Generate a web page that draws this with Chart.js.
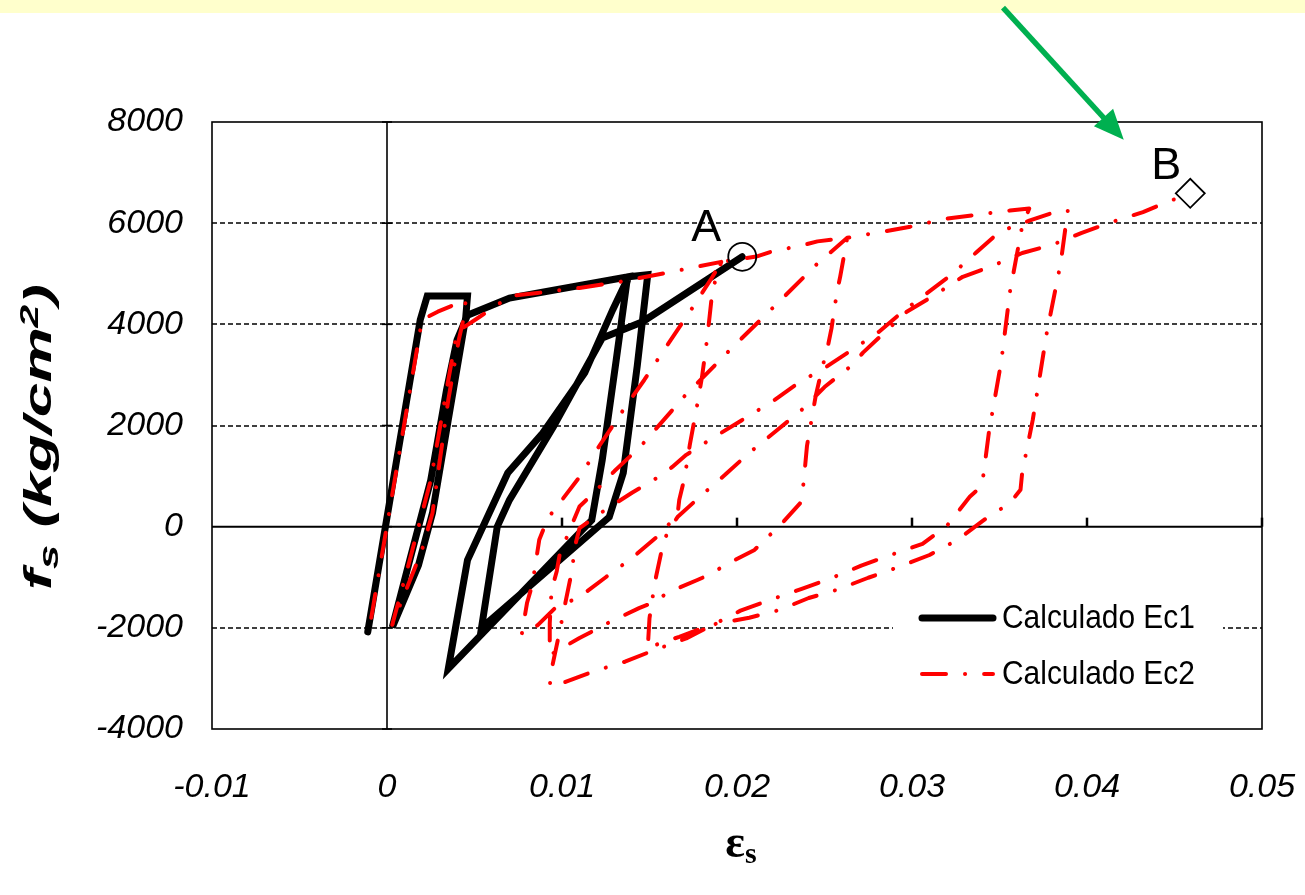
<!DOCTYPE html>
<html>
<head>
<meta charset="utf-8">
<script src="https://cdn.jsdelivr.net/npm/chart.js@4.4.1/dist/chart.umd.min.js"></script>
<style>
  html, body { margin: 0; padding: 0; background: #fff; }
  #wrap { width: 1305px; height: 895px; }
</style>
</head>
<body>
<div id="wrap"><canvas id="c" width="1305" height="895"></canvas></div>
<script>
// ---- dati ----
const xTickValues = [-0.01, 0, 0.01, 0.02, 0.03, 0.04, 0.05];
const xTickLabels = ['-0.01', '0', '0.01', '0.02', '0.03', '0.04', '0.05'];
const yTickValues = [-4000, -2000, 0, 2000, 4000, 6000, 8000];
const yDashedGrid = [-2000, 2000, 4000, 6000];

// Calculado Ec1 (linea nera)
const ec1Strain = [-0.0011, 0.0019, 0.0023, 0.0046, 0.0045, 0.0035, 0.0026, 0.0018, 0.0003,
  0.0013, 0.0025, 0.0034, 0.0040, 0.0046, 0.0070, 0.0138,
  0.0137, 0.0131, 0.0123, 0.0117, 0.0035,
  0.0046, 0.0069, 0.0089, 0.0113, 0.0129, 0.0138, 0.0149,
  0.0143, 0.0135, 0.0127, 0.0054,
  0.0063, 0.0070, 0.0095, 0.0123, 0.0146, 0.0203];
const ec1Stress = [-2080, 4090, 4560, 4560, 4140, 2110, 270, -760, -1990,
  -660, 920, 2700, 3690, 4180, 4520, 4940,
  4820, 3300, 1320, 130, -2810,
  -660, 1060, 1850, 3040, 4290, 4940, 4980,
  3180, 1060, 190, -2000,
  0, 530, 1970, 3730, 4050, 5335];

// Calculado Ec2 (linea rossa tratto-punto)
const ec2Strain = [-0.0009, 0.0020, 0.0029, 0.0045, 0.0044, 0.0041, 0.0035, 0.0026, 0.0020, 0.0003,
  0.0013, 0.0025, 0.0034, 0.0040, 0.0053, 0.0063, 0.0070, 0.0086, 0.0110, 0.0133, 0.0160, 0.0191,
  0.0186, 0.0183, 0.0180, 0.0177, 0.0173, 0.0170, 0.0167, 0.0166, 0.0154, 0.0140, 0.0125, 0.0110, 0.0096, 0.0086, 0.0077,
  0.0080, 0.0083, 0.0087, 0.0092, 0.0110, 0.0121, 0.0137, 0.0147, 0.0159, 0.0175, 0.0186, 0.0191,
  0.0211, 0.0220, 0.0237, 0.0246, 0.0263,
  0.0259, 0.0257, 0.0254, 0.0252, 0.0249, 0.0245, 0.0240, 0.0238, 0.0236, 0.0224, 0.0217, 0.0210, 0.0193, 0.0186,
  0.0177, 0.0160, 0.0153, 0.0144, 0.0127, 0.0119, 0.0110, 0.0093,
  0.0093, 0.0094, 0.0097, 0.0099, 0.0103, 0.0106, 0.0110, 0.0118, 0.0130, 0.0145, 0.0170, 0.0197, 0.0225, 0.0245, 0.0263,
  0.0283, 0.0299, 0.0320, 0.0338, 0.0356, 0.0367,
  0.0363, 0.0356, 0.0351, 0.0344, 0.0340, 0.0333, 0.0320, 0.0306, 0.0287, 0.0271, 0.0253, 0.0237, 0.0218, 0.0202,
  0.0184, 0.0171, 0.0152, 0.0136, 0.0119, 0.0102, 0.0093,
  0.0094, 0.0098, 0.0102, 0.0106, 0.0107, 0.0110, 0.0123, 0.0131, 0.0140, 0.0155, 0.0163, 0.0171, 0.0186, 0.0203,
  0.0220, 0.0235, 0.0251, 0.0266, 0.0281, 0.0296, 0.0321, 0.0329, 0.0337, 0.0350, 0.0367, 0.0385, 0.0389,
  0.0385, 0.0377, 0.0369, 0.0363, 0.0362, 0.0356, 0.0341, 0.0326, 0.0310, 0.0291, 0.0275, 0.0257, 0.0241, 0.0224,
  0.0207, 0.0185, 0.0167, 0.0158, 0.0149,
  0.0150, 0.0153, 0.0157, 0.0160, 0.0166, 0.0180, 0.0193, 0.0207, 0.0223, 0.0237, 0.0250, 0.0266, 0.0272, 0.0297,
  0.0313, 0.0329, 0.0345, 0.0363, 0.0380, 0.0397, 0.0415, 0.0432, 0.0449, 0.0459];
const ec2Stress = [-1800, 4090, 4250, 4480, 4150, 3690, 2500, 270, -460, -1940,
  -660, 920, 2700, 3850, 4150, 4380, 4560, 4620, 4720, 4840, 5020, 5235,
  4680, 3730, 2960, 2360, 1610, 960, 530, 230, -210, -620, -1000, -1390, -1610, -1950, -2130,
  -1510, -1150, -260, 170, 980, 1580, 2410, 2900, 3530, 4350, 4940, 5235,
  5340, 5440, 5560, 5640, 5710,
  4950, 4610, 3920, 3580, 3180, 2590, 1600, 850, 460, 0, -220, -460, -760, -920,
  -1060, -1310, -1490, -1610, -1890, -2040, -2200, -2540,
  -1910, -1260, -880, -490, -190, 70, 400, 660, 1100, 1590, 2580, 3530, 4480, 5170, 5710,
  5830, 5930, 6090, 6170, 6250, 6290,
  5950, 4650, 3260, 1880, 810, 590, 20, -340, -570, -770, -1030, -1230, -1460, -1660,
  -1980, -2210, -2450, -2670, -2850, -3070, -3150,
  -2830, -2180, -1490, -820, -440, -30, 290, 470, 670, 980, 1180, 1420, 1750, 2110,
  2470, 2840, 3160, 3500, 3850, 4290, 4940, 5180, 5430, 5830, 6050, 6260, 6245,
  5220, 3830, 2110, 1080, 730, 470, 130, -260, -560, -815, -1010, -1250, -1410, -1650,
  -1800, -1940, -2180, -2280, -2400,
  -1810, -1110, -460, -130, 190, 630, 1020, 1460, 1910, 2310, 2760, 3200, 3440, 4250,
  4580, 4940, 5140, 5410, 5570, 5810, 6030, 6220, 6460, 6590];

const toPoints = (xs, ys) => xs.map((v, i) => ({ x: v, y: ys[i] }));
const ec1 = toPoints(ec1Strain, ec1Stress);
const ec2 = toPoints(ec2Strain, ec2Stress);
const pointA = ec1[ec1.length - 1];
const pointB = ec2[ec2.length - 1];

const FONT = "'Liberation Sans', Arial, sans-serif";

function line(ctx, x1, y1, x2, y2) {
  ctx.beginPath();
  ctx.moveTo(x1, y1);
  ctx.lineTo(x2, y2);
  ctx.stroke();
}

// testo con pedici/apici, centrato in (0,0); sx allunga lungo il testo
function richText(ctx, runs, targetLen) {
  let total = 0;
  runs.forEach(r => { ctx.font = r.font; r.w = ctx.measureText(r.text).width; total += r.w; });
  const sx = targetLen ? targetLen / total : 1;
  ctx.scale(sx, 1);
  let x = -total / 2;
  runs.forEach(r => {
    ctx.font = r.font;
    ctx.fillText(r.text, x, r.dy || 0);
    x += r.w;
  });
}

const decor = {
  id: 'decor',
  beforeDraw(chart) {
    const ctx = chart.ctx;
    ctx.save();
    ctx.fillStyle = '#ffffff';
    ctx.fillRect(0, 0, chart.width, chart.height);
    ctx.fillStyle = '#ffffcc';
    ctx.fillRect(0, 0, chart.width, 13);
    ctx.restore();
  },
  beforeDatasetsDraw(chart) {
    const { ctx, chartArea: a, scales: { x, y } } = chart;
    ctx.save();
    ctx.strokeStyle = '#000';
    // griglia tratteggiata
    ctx.lineWidth = 1.6;
    ctx.setLineDash([5, 3]);
    yDashedGrid.forEach(v => {
      const py = Math.round(y.getPixelForValue(v));
      line(ctx, a.left, py, a.right, py);
    });
    ctx.setLineDash([]);
    // bordo dell'area
    ctx.lineWidth = 1.6;
    ctx.strokeRect(a.left, a.top, a.right - a.left, a.bottom - a.top);
    // assi per lo zero
    const x0 = x.getPixelForValue(0);
    const y0 = y.getPixelForValue(0);
    ctx.lineWidth = 2;
    line(ctx, a.left, y0, a.right, y0);
    ctx.lineWidth = 1.6;
    line(ctx, x0, a.top, x0, a.bottom);
    ctx.lineWidth = 2.5;
    xTickValues.forEach(v => {
      if (v <= 0) return;
      const px = x.getPixelForValue(v);
      line(ctx, px, y0, px, y0 - 9);
    });
    ctx.lineWidth = 1.6;
    yTickValues.forEach(v => {
      const py = y.getPixelForValue(v);
      line(ctx, x0 - 5, py, x0 + 5, py);
    });
    ctx.restore();
  },
  afterDraw(chart) {
    const { ctx, scales: { x, y } } = chart;
    ctx.save();
    ctx.fillStyle = '#000';
    ctx.textBaseline = 'middle';

    // titolo asse y
    ctx.save();
    ctx.translate(41, 437);
    ctx.rotate(-Math.PI / 2);
    richText(ctx, [
      { text: 'f', font: `italic bold 38px ${FONT}` },
      { text: 's', font: `italic bold 27px ${FONT}`, dy: 10 },
      { text: ' (kg/cm', font: `italic bold 38px ${FONT}` },
      { text: '2', font: `italic bold 25px ${FONT}`, dy: -10 },
      { text: ')', font: `italic bold 38px ${FONT}` }
    ], 306);
    ctx.restore();

    // titolo asse x
    ctx.save();
    ctx.translate(741, 845);
    richText(ctx, [
      { text: '\u03b5', font: "bold 46px 'Liberation Serif', 'DejaVu Serif', serif" },
      { text: 's', font: "bold 30px 'Liberation Serif', 'DejaVu Serif', serif", dy: 10 }
    ]);
    ctx.restore();

    // etichette A e B
    const ax = x.getPixelForValue(pointA.x), ay = y.getPixelForValue(pointA.y);
    const bx = x.getPixelForValue(pointB.x), by = y.getPixelForValue(pointB.y);
    ctx.font = `45px ${FONT}`;
    ctx.textAlign = 'center';
    ctx.fillText('A', ax - 36, ay - 28);
    ctx.fillText('B', bx - 24, by - 27);
    ctx.textAlign = 'left';

    // freccia verde
    const tx = x.getPixelForValue(0.0421), ty = y.getPixelForValue(7650);
    const sx = x.getPixelForValue(0.0352), sy = y.getPixelForValue(10260);
    const ang = Math.atan2(ty - sy, tx - sx);
    ctx.strokeStyle = '#00b050';
    ctx.fillStyle = '#00b050';
    ctx.lineWidth = 5.5;
    const hl = 30, hw = 13;
    const bxp = tx - Math.cos(ang) * hl, byp = ty - Math.sin(ang) * hl;
    line(ctx, sx, sy, bxp + Math.cos(ang) * 4, byp + Math.sin(ang) * 4);
    ctx.beginPath();
    ctx.moveTo(tx, ty);
    ctx.lineTo(bxp - Math.sin(ang) * hw, byp + Math.cos(ang) * hw);
    ctx.lineTo(bxp + Math.sin(ang) * hw, byp - Math.cos(ang) * hw);
    ctx.closePath();
    ctx.fill();

    // legenda
    const ds = chart.data.datasets;
    ctx.fillStyle = '#fff';
    ctx.fillRect(893, 596, 330, 106);
    ctx.lineCap = 'round';
    ctx.strokeStyle = ds[0].borderColor;
    ctx.lineWidth = ds[0].borderWidth;
    line(ctx, 922, 618, 993, 618);
    ctx.strokeStyle = ds[1].borderColor;
    ctx.lineWidth = ds[1].borderWidth;
    ctx.setLineDash(ds[1].borderDash);
    line(ctx, 922, 674, 993, 674);
    ctx.setLineDash([]);
    ctx.fillStyle = '#000';
    ctx.font = `34px ${FONT}`;
    [[ds[0].label, 619], [ds[1].label, 675]].forEach(([t, ty2]) => {
      ctx.save();
      ctx.translate(1002, ty2);
      ctx.scale(0.88, 1);
      ctx.fillText(t, 0, 0);
      ctx.restore();
    });
    ctx.restore();
  }
};

new Chart(document.getElementById('c'), {
  type: 'scatter',
  data: {
    datasets: [
      {
        label: 'Calculado Ec1',
        data: ec1,
        showLine: true,
        borderColor: '#000000',
        borderWidth: 7,
        borderCapStyle: 'round',
        borderJoinStyle: 'miter',
        pointRadius: 0,
        order: 3
      },
      {
        label: 'Calculado Ec2',
        data: ec2,
        showLine: true,
        borderColor: '#ff0000',
        borderWidth: 4,
        borderDash: [24, 19, 0.1, 19],
        borderCapStyle: 'round',
        borderJoinStyle: 'round',
        pointRadius: 0,
        order: 2
      },
      {
        label: 'A',
        data: [pointA],
        pointStyle: 'circle',
        pointRadius: 14,
        pointBorderWidth: 1.8,
        pointBorderColor: '#000',
        pointBackgroundColor: 'rgba(0,0,0,0)',
        order: 1
      },
      {
        label: 'B',
        data: [pointB],
        pointStyle: 'rectRot',
        pointRadius: 14.5,
        pointBorderWidth: 1.8,
        pointBorderColor: '#000',
        pointBackgroundColor: 'rgba(0,0,0,0)',
        order: 1
      }
    ]
  },
  options: {
    responsive: false,
    animation: false,
    layout: { padding: { top: 122, right: 43, left: 0, bottom: 0 } },
    scales: {
      x: {
        type: 'linear',
        min: -0.01,
        max: 0.05,
        afterBuildTicks: s => { s.ticks = xTickValues.map(v => ({ value: v })); },
        afterFit: s => { s.height = 166; s.paddingLeft = 0; s.paddingRight = 0; },
        grid: { display: false, drawTicks: false },
        border: { display: false },
        ticks: {
          padding: 38,
          color: '#000',
          maxRotation: 0,
          font: { family: FONT, size: 34, style: 'italic' },
          callback: (v, i) => xTickLabels[i]
        }
      },
      y: {
        type: 'linear',
        min: -4000,
        max: 8000,
        afterBuildTicks: s => { s.ticks = yTickValues.map(v => ({ value: v })); },
        afterFit: s => { s.width = 212; s.paddingTop = 0; s.paddingBottom = 0; },
        grid: { display: false, drawTicks: false },
        border: { display: false },
        ticks: {
          padding: 29,
          color: '#000',
          font: { family: FONT, size: 34, style: 'italic' },
          callback: v => String(v)
        }
      }
    },
    plugins: {
      legend: { display: false },
      tooltip: { enabled: false }
    }
  },
  plugins: [decor]
});
</script>
</body>
</html>
